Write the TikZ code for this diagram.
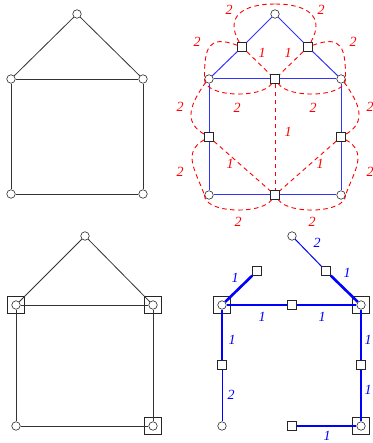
\documentclass[tikz,border=0pt]{standalone}
\usepackage{fontspec}
\setmainfont{Liberation Serif}
\usepackage{tikz}
\usetikzlibrary{shapes,arrows,positioning,fit,calc}

\begin{document}
\begin{tikzpicture}[
    x=1pt, y=1pt,
    vtx/.style={circle, draw=black!85, line width=0.6pt, fill=white, inner sep=0pt, minimum size=8.5pt},
    term/.style={rectangle, draw=black!85, line width=0.6pt, fill=white, inner sep=0pt, minimum size=9pt},
    hold/.style={rectangle, draw=black!85, line width=0.6pt, inner sep=0pt, minimum size=17pt},
    gedge/.style={draw=black!80, line width=0.8pt},
    thinb/.style={draw=blue!80, line width=1pt},
    heavyb/.style={draw=blue, line width=2.6pt},
    dist/.style={draw=red, dash pattern=on 4.5pt off 3.5pt, line width=0.9pt},
    wred/.style={text=red, font=\itshape\fontsize{14}{14}\selectfont, inner sep=0pt},
    wblue/.style={text=blue, font=\itshape\fontsize{14}{14}\selectfont, inner sep=0pt}
]
\useasboundingbox (0,0) rectangle (372,-443);

% graph G
\node[vtx] (gApex) at (77,-14) {};
\node[vtx] (gLeft) at (11,-79) {};
\node[vtx] (gRight) at (143,-79) {};
\node[vtx] (gBL) at (11,-194) {};
\node[vtx] (gBR) at (143,-194) {};
\draw[gedge] (gApex) -- (gLeft);
\draw[gedge] (gApex) -- (gRight);
\draw[gedge] (gLeft) -- (gRight);
\draw[gedge] (gLeft) -- (gBL);
\draw[gedge] (gRight) -- (gBR);
\draw[gedge] (gBL) -- (gBR);

% subdivided graph with distance edges
\node[vtx] (sApex) at (275,-14) {};
\node[vtx] (sLeft) at (209,-79) {};
\node[vtx] (sRight) at (341,-79) {};
\node[vtx] (sBL) at (209,-195) {};
\node[vtx] (sBR) at (341,-195) {};
\node[term] (sRoofL) at (242,-47) {};
\node[term] (sRoofR) at (308,-47) {};
\node[term] (sTop) at (275,-79) {};
\node[term] (sSideL) at (209,-137) {};
\node[term] (sSideR) at (341,-137) {};
\node[term] (sBot) at (275,-195) {};
\coordinate (sCrest) at (275,-4);
\draw[thinb] (sApex) -- (sRoofL);
\draw[thinb] (sRoofL) -- (sLeft);
\draw[thinb] (sApex) -- (sRoofR);
\draw[thinb] (sRoofR) -- (sRight);
\draw[thinb] (sLeft) -- (sTop);
\draw[thinb] (sTop) -- (sRight);
\draw[thinb] (sLeft) -- (sSideL);
\draw[thinb] (sSideL) -- (sBL);
\draw[thinb] (sRight) -- (sSideR);
\draw[thinb] (sSideR) -- (sBR);
\draw[thinb] (sBL) -- (sBot);
\draw[thinb] (sBot) -- (sBR);
\draw[dist] (sRoofL) -- (sTop);
\draw[dist] (sRoofR) -- (sTop);
\draw[dist] (sTop) -- (sBot);
\draw[dist] (sSideL) -- (sBot);
\draw[dist] (sSideR) -- (sBot);
% left half
\draw[dist] (sRoofL) to[out=120, in=180, looseness=1.5] (sCrest);
\draw[dist] (sRoofL) to[out=160, in=90, looseness=1.7] (sLeft.west);
\draw[dist] (sLeft.west) to[out=-90, in=-125, looseness=0.7] (sTop);
\draw[dist] (sLeft.south west) to[out=235, in=150, looseness=1.25] (sSideL);
\draw[dist] (sSideL) to[out=210, in=110, looseness=1.2] (sBL.west);
\draw[dist] (sBL.west) to[out=-90, in=-125, looseness=0.7] (sBot);
% right half
\draw[dist] (sRoofR) to[out=60, in=0, looseness=1.5] (sCrest);
\draw[dist] (sRoofR) to[out=20, in=90, looseness=1.7] (sRight.east);
\draw[dist] (sRight.east) to[out=-90, in=-55, looseness=0.7] (sTop);
\draw[dist] (sRight.south east) to[out=-55, in=30, looseness=1.25] (sSideR);
\draw[dist] (sSideR) to[out=-30, in=70, looseness=1.2] (sBR.east);
\draw[dist] (sBR.east) to[out=-90, in=-55, looseness=0.7] (sBot);
\node[wred] (r1) at (229,-10) {2};
\node[wred] (r2) at (321,-10) {2};
\node[wred] (r3) at (197,-42) {2};
\node[wred] (r4) at (353,-42) {2};
\node[wred] (r5) at (237,-108) {2};
\node[wred] (r6) at (313,-108) {2};
\node[wred] (r7) at (180,-107) {2};
\node[wred] (r8) at (370,-107) {2};
\node[wred] (r9) at (180,-172) {2};
\node[wred] (r10) at (370,-172) {2};
\node[wred] (r11) at (238,-222) {2};
\node[wred] (r12) at (312,-222) {2};
\node[wred] (r13) at (262,-53) {1};
\node[wred] (r14) at (288,-53) {1};
\node[wred] (r15) at (288,-132) {1};
\node[wred] (r16) at (230,-164) {1};
\node[wred] (r17) at (320,-164) {1};

% terminals on G
\node[hold] (tLeftBox) at (16,-305) {};
\node[hold] (tRightBox) at (153,-305) {};
\node[hold] (tBRBox) at (153,-426) {};
\node[vtx] (tApex) at (85,-236) {};
\node[vtx] (tLeft) at (16,-305) {};
\node[vtx] (tRight) at (153,-305) {};
\node[vtx] (tBL) at (16,-426) {};
\node[vtx] (tBR) at (153,-426) {};
\draw[gedge] (tApex) -- (tLeft);
\draw[gedge] (tApex) -- (tRight);
\draw[gedge] (tLeft) -- (tRight);
\draw[gedge] (tLeft) -- (tBL);
\draw[gedge] (tRight) -- (tBR);
\draw[gedge] (tBL) -- (tBR);

% resulting tree
\node[hold] (hLeftBox) at (222,-305) {};
\node[hold] (hRightBox) at (361,-305) {};
\node[hold] (hBRBox) at (361,-426) {};
\node[vtx] (hApex) at (292,-236) {};
\node[vtx] (hLeft) at (222,-305) {};
\node[vtx] (hRight) at (361,-305) {};
\node[vtx] (hBL) at (222,-426) {};
\node[vtx] (hBR) at (361,-426) {};
\node[term] (hRoofL) at (257,-271) {};
\node[term] (hRoofR) at (326,-271) {};
\node[term] (hTop) at (292,-305) {};
\node[term] (hSideL) at (222,-365) {};
\node[term] (hSideR) at (361,-365) {};
\node[term] (hBot) at (292,-426) {};
\draw[thinb, draw=blue] (hApex) -- (hRoofR);
\draw[thinb, draw=blue] (hSideL) -- (hBL);
\draw[heavyb] (hRoofL) -- (hLeft);
\draw[heavyb] (hLeft) -- (hTop);
\draw[heavyb] (hTop) -- (hRight);
\draw[heavyb] (hRoofR) -- (hRight);
\draw[heavyb] (hLeft) -- (hSideL);
\draw[heavyb] (hRight) -- (hSideR);
\draw[heavyb] (hSideR) -- (hBR);
\draw[heavyb] (hBot) -- (hBR);
\node[wblue] (b1) at (317,-243) {2};
\node[wblue] (b2) at (347,-273) {1};
\node[wblue] (b3) at (235,-278) {1};
\node[wblue] (b4) at (262,-317) {1};
\node[wblue] (b5) at (322,-317) {1};
\node[wblue] (b6) at (232,-340) {1};
\node[wblue] (b7) at (231,-395) {2};
\node[wblue] (b8) at (368,-340) {1};
\node[wblue] (b9) at (368,-390) {1};
\node[wblue] (b10) at (327,-436) {1};
\end{tikzpicture}
\end{document}
